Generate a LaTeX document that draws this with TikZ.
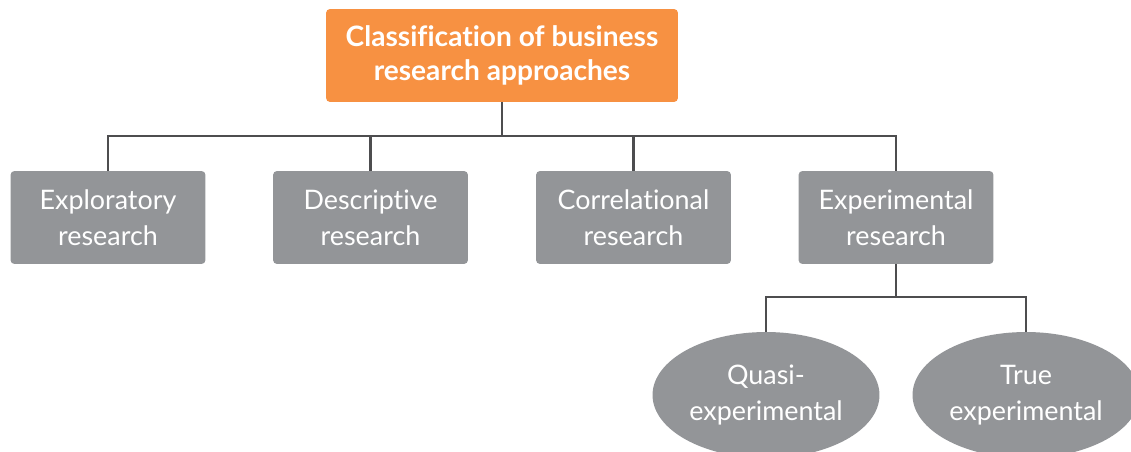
\documentclass[tikz,border=0pt]{standalone}
\usepackage{fontspec}
\setmainfont{Lato}[Ligatures=NoCommon]
\usetikzlibrary{shapes.geometric}
\definecolor{rorange}{HTML}{F79142}
\definecolor{rgray}{HTML}{939598}
\definecolor{rline}{HTML}{4D4D4F}
\tikzset{link/.style={rline,line width=1.6pt},
  headbox/.style={fill=rorange,draw=none,rounded corners=0.08cm,text=white,align=center,
    minimum width=7.04cm,minimum height=1.86cm,inner sep=0pt,font=\fontsize{16}{19.5}\selectfont\bfseries},
  typebox/.style={fill=rgray,draw=none,rounded corners=0.08cm,text=white,align=center,
    minimum width=3.9cm,minimum height=1.86cm,inner sep=0pt,font=\fontsize{15.3}{20.5}\selectfont},
  kindoval/.style={ellipse,fill=rgray,draw=none,text=white,align=center,
    minimum width=4.54cm,minimum height=2.52cm,inner sep=0pt,font=\fontsize{15.3}{20.5}\selectfont}}

\begin{document}
\begin{tikzpicture}[x=0.02cm,y=-0.02cm]
   \useasboundingbox (0,0) rectangle (1131,452);
   \clip (0,0) rectangle (1131,452);
   \node[headbox] (top)  at (502,55.5)   {Classification of business\\research approaches};
   \node[typebox] (expl) at (108,217.5)  {Exploratory\\research};
   \node[typebox] (desc) at (370.5,217.5){Descriptive\\research};
   \node[typebox] (corr) at (633.5,217.5){Correlational\\research};
   \node[typebox] (expt) at (896,217.5)  {Experimental\\research};
   \node[kindoval] (quasi) at (766,395)  {Quasi-\\experimental};
   \node[kindoval] (true)  at (1026,395) {True\\experimental};
   \coordinate (bus) at (502,136);
   \coordinate (sub) at (896,297);
   \begin{scope}[link]
    \draw (top.south) -- (bus);
    \draw (expl.north) |- (bus);
    \draw (desc.north) |- (bus);
    \draw (corr.north) |- (bus);
    \draw (expt.north) |- (bus);
    \draw (expt.south) -- (sub);
    \draw (quasi.north) |- (sub);
    \draw (true.north)  |- (sub);
   \end{scope}
\end{tikzpicture}
\end{document}
